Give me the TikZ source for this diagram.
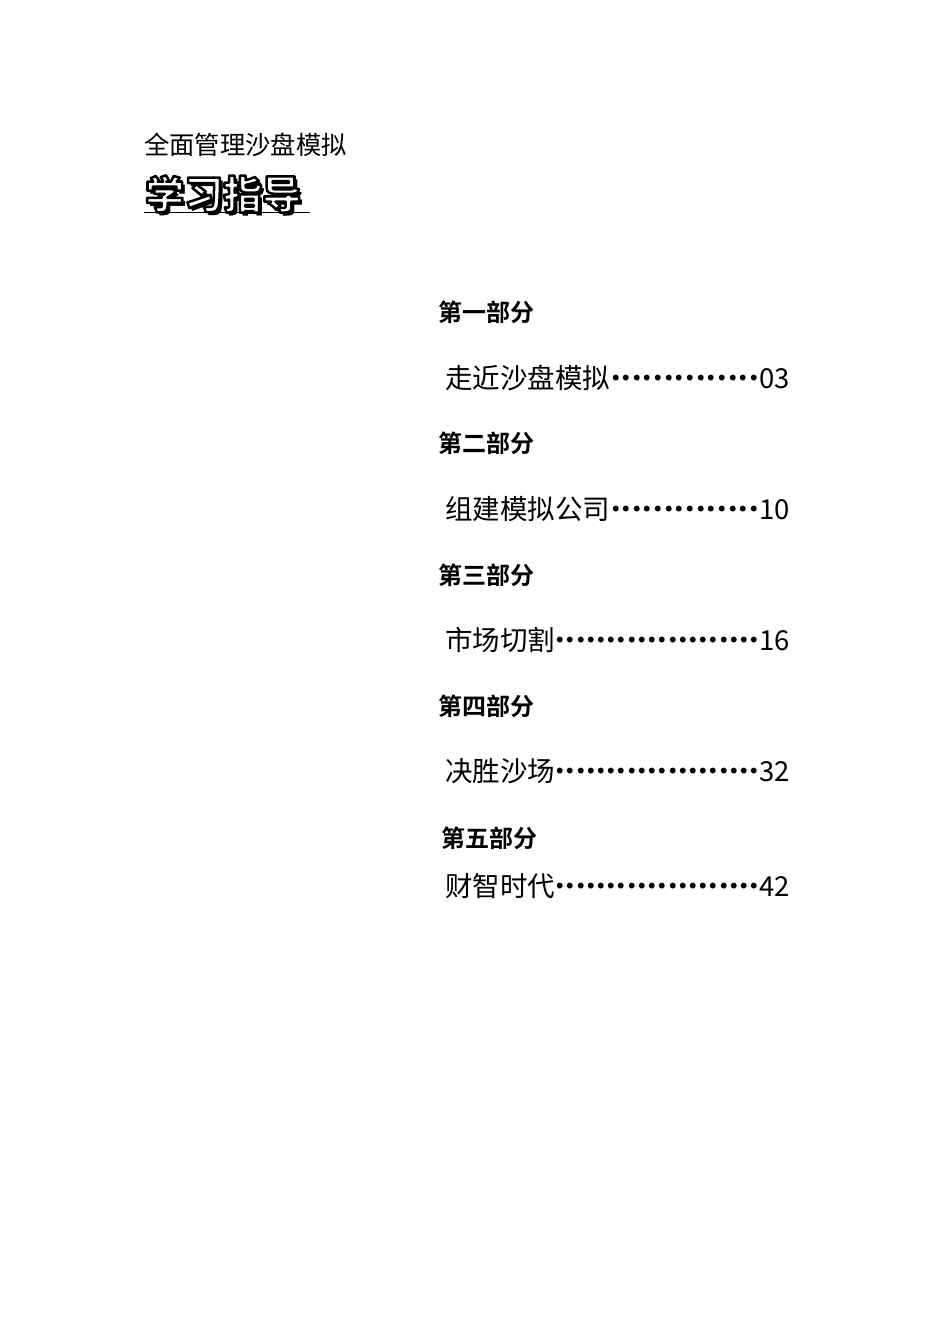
\documentclass[tikz,border=0pt]{standalone}
\usepackage{fontspec}
\newfontfamily\cjk{Noto Sans CJK SC}
\newfontfamily\cjkb{Noto Sans CJK SC Bold}
\newfontfamily\cjkk{Noto Sans CJK SC Black}
\newcommand{\mydots}{\xleaders\hbox to 10.2pt{\hss·\hss}\hfill}
\newcommand{\outlinetext}[1]{{\special{pdf:literal direct q 1 g 0 G 2 Tr 2.5 w 1 j}#1\special{pdf:literal direct Q}}}
\tikzset{head/.style={anchor=west,font=\cjkb\fontsize{24}{26}\selectfont,inner sep=0},
 entry/.style={anchor=west,font=\cjk\fontsize{27.5}{29}\selectfont,inner sep=0,text width=345pt,align=left}}
\begin{document}
\begin{tikzpicture}[x=1pt,y=-1pt]
\useasboundingbox[fill=white] (0,0) rectangle (950,1344);
\node[anchor=west,inner sep=0,font=\cjk\fontsize{25.3}{27}\selectfont] (sub) at (144,145) {全面管理沙盘模拟};
\node[anchor=west,inner sep=0,font=\cjkk\fontsize{39}{41}\selectfont] (shadow) at (148,198) {学习指导};
\node[anchor=west,inner sep=0,font=\cjkk\fontsize{39}{41}\selectfont] (title) at (145,194) {\outlinetext{学习指导}};
\draw[line width=1pt] (144,212) -- (310,212);
\node[head] (h1) at (438,312) {第一部分};
\node[entry] (e1) at (445,378) {走近沙盘模拟\mydots 03};
\node[head] (h2) at (438,443) {第二部分};
\node[entry] (e2) at (445,509) {组建模拟公司\mydots 10};
\node[head] (h3) at (438,575) {第三部分};
\node[entry] (e3) at (445,640) {市场切割\mydots 16};
\node[head] (h4) at (438,706) {第四部分};
\node[entry] (e4) at (445,771) {决胜沙场\mydots 32};
\node[head] (h5) at (441,838) {第五部分};
\node[entry] (e5) at (445,886) {财智时代\mydots 42};
\end{tikzpicture}
\end{document}
